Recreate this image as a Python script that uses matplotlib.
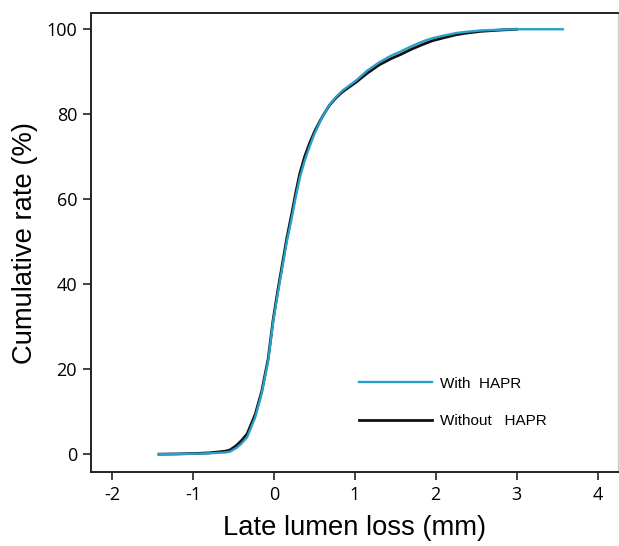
import matplotlib
matplotlib.use("Agg")
import matplotlib.pyplot as plt

# Data (cumulative distribution of late lumen loss)
with_x = [-1.42, -1.2, -1.0, -0.8, -0.6, -0.54, -0.46, -0.4, -0.33, -0.23, -0.15, -0.07, -0.01, 0.05,
          0.11, 0.16, 0.22, 0.27, 0.32, 0.38, 0.44, 0.5, 0.57, 0.63, 0.69, 0.77, 0.85, 1.02, 1.15, 1.3,
          1.45, 1.56, 1.7, 1.85, 1.96, 2.1, 2.25, 2.38, 2.55, 2.79, 3.0, 3.3, 3.57]
with_y = [0.0, 0.05, 0.1, 0.2, 0.4, 0.6, 1.5, 2.5, 4.0, 8.7, 14.3, 22.0, 31.0, 38.0,
          44.5, 50.0, 55.5, 60.5, 65.0, 69.0, 72.3, 75.3, 78.2, 80.4, 82.3, 84.1, 85.6, 88.0, 90.2, 92.2,
          93.8, 94.7, 96.0, 97.2, 97.9, 98.5, 99.1, 99.4, 99.7, 99.9, 100.0, 100.0, 100.0]

without_x = [-1.42, -1.2, -1.0, -0.8, -0.6, -0.54, -0.46, -0.4, -0.33, -0.23, -0.15, -0.07, -0.01, 0.05,
             0.11, 0.16, 0.22, 0.27, 0.32, 0.38, 0.44, 0.5, 0.57, 0.63, 0.69, 0.77, 0.85, 1.02, 1.15, 1.3,
             1.45, 1.56, 1.7, 1.85, 1.96, 2.1, 2.25, 2.38, 2.55, 2.79, 3.0]
without_y = [0.0, 0.05, 0.15, 0.3, 0.7, 1.0, 2.1, 3.2, 4.8, 9.4, 14.8, 22.5, 31.5, 38.7,
             45.3, 50.8, 56.5, 61.5, 66.0, 70.0, 73.1, 75.8, 78.4, 80.4, 82.2, 83.9, 85.3, 87.6, 89.6, 91.6,
             93.1, 94.0, 95.3, 96.5, 97.3, 98.0, 98.7, 99.1, 99.5, 99.8, 100.0]

series_labels = ["With  HAPR", "Without   HAPR"]
x_ticks = [-2, -1, 0, 1, 2, 3, 4]
y_ticks = [0, 20, 40, 60, 80, 100]

fig = plt.figure(figsize=(6.19, 5.46), dpi=100)
ax = fig.add_axes([0.147, 0.1355, 0.851, 0.8405])

l2, = ax.plot(without_x, without_y, color="#111111", lw=2.0, label=series_labels[1])
l1, = ax.plot(with_x, with_y, color="#2a9fc9", lw=1.7, label=series_labels[0])

ax.set_xlim(-2.26, 4.25)
ax.set_ylim(-4.2, 103.8)
ax.set_xticks(x_ticks)
ax.set_yticks(y_ticks)
ax.set_xticklabels([str(t) for t in x_ticks], fontfamily="Open Sans", fontsize=13)
ax.set_yticklabels([str(t) for t in y_ticks], fontfamily="Open Sans", fontsize=13)
ax.tick_params(direction="out", length=6, width=1.2, color="#222222", pad=4)

for s in ["left", "bottom", "top"]:
    ax.spines[s].set_linewidth(1.4)
    ax.spines[s].set_color("#222222")
ax.spines["right"].set_color("#d0d0d0")
ax.spines["right"].set_linewidth(1.0)

ax.set_xlabel("Late lumen loss (mm)", fontfamily="Liberation Sans", fontsize=19.7, labelpad=8)
ax.set_ylabel("Cumulative rate (%)", fontfamily="Liberation Sans", fontsize=19.7, labelpad=6)

leg = ax.legend(handles=[l1, l2], loc="upper left", bbox_to_anchor=(0.508, 0.208),
                frameon=False, borderpad=0, borderaxespad=0, handlelength=4.8,
                handletextpad=0.5, labelspacing=1.55,
                prop={"family": "Liberation Sans", "size": 11})

fig.savefig("out.png", dpi=100)
